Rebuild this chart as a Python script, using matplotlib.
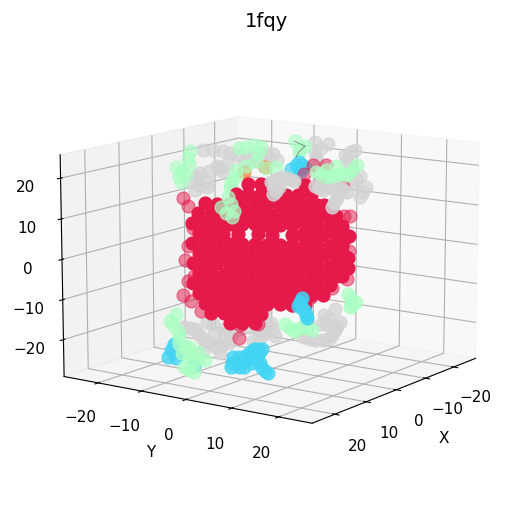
import matplotlib
matplotlib.use("Agg")
import matplotlib.pyplot as plt

TITLE = "1fqy"
TICKS = [-20, -10, 0, 10, 20]

# Helix residues
core_z = [17,17,17,
 14.5,14.5,14.5,14.5,14.5,14.5,14.5,
 12,12,12,12,12,12,12,12,12,12,12,
 9.5,9.5,9.5,9.5,9.5,9.5,9.5,9.5,9.5,9.5,9.5,9.5,9.5,
 7,7,7,7,7,7,7,7,7,7,7,7,7,7,
 4.5,4.5,4.5,4.5,4.5,4.5,4.5,4.5,4.5,4.5,4.5,4.5,4.5,
 2,2,2,2,2,2,2,2,2,2,2,2,2,
 -.5,-.5,-.5,-.5,-.5,-.5,-.5,-.5,-.5,-.5,-.5,-.5,-.5,
 -3,-3,-3,-3,-3,-3,-3,-3,-3,-3,-3,-3,-3,
 -5.5,-5.5,-5.5,-5.5,-5.5,-5.5,-5.5,-5.5,-5.5,-5.5,-5.5,-5.5,-5.5,
 -8,-8,-8,-8,-8,-8,-8,-8,-8,-8,-8,-8,
 -10.5,-10.5,-10.5,-10.5,-10.5,-10.5,-10.5,-10.5,-10.5,-10.5,-10.5,
 -13,-13,-13,-13,-13,-13,-13,-13,-13,
 -15.5,-15.5,-15.5,-15.5,-15.5,
 -18,-18,-18,
 4,-1,-3.5]
core_y = [-4,-2,5,
 -6,-4,-2,0,2,4,6,
 -11,-9,-7,-5,-3,-1,1,3,5,7,8,
 -12,-10,-8,-6,-4,-2,0,2,4,6,8,9,10,
 -13,-11,-9,-7,-5,-3,-1,1,3,5,7,9,10,11,
 -12,-10,-8,-5.6,-2.4,-.2,3,4.5,6,8,10,11,12,
 -13,-11,-9,-7,-5,-3,-1,1,3,5,7,9,11,
 -12,-10,-8,-6,-4,-2,0,2,4,6,8,10,11.5,
 -13,-11,-9,-7,-5,-3,-1,1,3,5,7,9,11,
 -12,-10,-8,-6,-4,-2,0,2,4,6,8,10,11,
 -13,-11,-9,-7,-5,-3,-1,1,3,5,7,9,
 -12,-10,-8,-6,-4,-2,0,2,4,6,8,
 -11,-9,-7,-5,-3,-1,1,3,5,
 -10,-8,-6,-4,-2,
 -7,-5,-3,
 11.5,12,12]
core_x = [2.3,1.2,-2.9,
 3.5,2.3,1.2,0,-1.2,-2.3,-3.5,
 6.3,5.2,4,2.9,1.7,.6,-.6,-1.7,-2.9,-4,-4.6,
 6.9,5.8,4.6,3.5,2.3,1.2,0,-1.2,-2.3,-3.5,-4.6,-5.2,-5.8,
 7.5,6.3,5.2,4,2.9,1.7,.6,-.6,-1.7,-2.9,-4,-5.2,-5.8,-6.3,
 6.9,5.8,4.6,3.2,1.4,.1,-1.7,-2.6,-3.5,-4.6,-5.8,-6.3,-6.9,
 7.5,6.3,5.2,4,2.9,1.7,.6,-.6,-1.7,-2.9,-4,-5.2,-6.3,
 6.9,5.8,4.6,3.5,2.3,1.2,0,-1.2,-2.3,-3.5,-4.6,-5.8,-6.6,
 7.5,6.3,5.2,4,2.9,1.7,.6,-.6,-1.7,-2.9,-4,-5.2,-6.3,
 6.9,5.8,4.6,3.5,2.3,1.2,0,-1.2,-2.3,-3.5,-4.6,-5.8,-6.3,
 7.5,6.3,5.2,4,2.9,1.7,.6,-.6,-1.7,-2.9,-4,-5.2,
 6.9,5.8,4.6,3.5,2.3,1.2,0,-1.2,-2.3,-3.5,-4.6,
 6.3,5.2,4,2.9,1.7,.6,-.6,-1.7,-2.9,
 5.8,4.6,3.5,2.3,1.2,
 4,2.9,1.7,
 -6.6,-6.9,-6.9]

rim_x = [8.4,7.9,7.4,-6.5,-7,-6.6,-6.3,-3.8,-5.1,-3.1,-4.1,8.2,7.9,8.4,7.7,-7,-6.8,-6.5,-5.4,-3.4,-1.7,1.4,3.1,3.2,7.4,7.9,6.7]
rim_y = [-14.5,-13.7,-12.8,11.3,12.2,11.4,11,6.1,8.2,4.7,7.2,-14.2,-13.7,-14.5,-13.3,12.1,11.8,11.2,9.4,6,3,-2.5,-5.3,-5.5,-12.8,-13.7,-11.7]
rim_z = [13.2,11.2,5.8,9.5,9.5,5,17,22,22,19.6,17.8,-2.2,1.2,-11,-12.5,.8,-6.2,-3.5,-8.5,-11,-13,-18,-18.5,-21.8,-6.2,-7.5,-15]

# Coil residues
gray_back_x = [-3.3,-4.2,-5.2,-6.5,-7.5,-8.7,-9.9,-7.1,-8.4,-4.6,-5.1,-3,-2.2,-3.6,-2.5,-3.6,-13.8,-15,-13.8,-14,-16.6,-17.6,-17.1,-18.6,-18.1,-17.4,
 -5.8,-8.1,-9.3,-7.8,-4.8,-3.8,-2.6,-2.9,-5.3,-14.3,-13.9,-17.1,-16.8,-18,-18.3,-17.7,-9.3,-10.3]
gray_back_y = [-18.5,-16.8,-15.1,-12.8,-11.1,-9,-7,-11.8,-9.5,-16.1,-15.3,-19,-20.3,-17.8,-19.8,-17.8,-.1,1.9,-.1,.2,4.7,6.4,5.5,8.2,7.2,6,
 -13.9,-10.1,-8,-10.6,-15.7,-17.5,-19.6,-18.8,-14.3,.9,0,5.5,5.1,7.1,7.7,6.6,-8.3,-6.3]
gray_back_z = [22.6,22.6,22.4,21.4,21.1,21.9,21.9,19.9,19.9,18.6,17.4,16.8,14.4,14.4,12.4,13.1,24.9,24.4,22.4,20.1,21.9,23.1,19.4,13.9,11.1,14.4,
 21.9,21.5,21.9,19.9,18,17.2,15.6,13.7,19.2,23.4,21.2,22.5,20.6,16.6,12.5,15.7,19.2,20.2]

gray_front_x = [0,-1.2,-2.1,-.2,-.8,-4,-4.8,-6,-6.1,-5.6,-7,-.6,-1.7,-.5,-4.4,-5.4,-6,-5.9,-6.5]
gray_front_y = [-.6,1.4,3.1,-.3,.7,6.4,7.7,9.7,9.9,9.1,11.6,.4,2.3,.2,7,8.7,9.8,9.5,10.7]
gray_front_z = [17.6,18.8,17.8,14.6,16.3,16.6,15.8,17,13.8,11.6,15.3,18.2,18.4,15.3,16.3,16.4,15.3,12.6,16.1]

gray_low_x = [18.1,17.1,16.4,15.2,14,13.8,16.1,14.8,10.7,10.1,11.1,9.7,11.7,10.7,7.2,6.1,4.8,4.3,3.9,5.3,4.3,5.6,13.4,16,
 17.6,16.8,15.8,14.6,14.3,15.3,13,14.5,15.3,12,11,9.9,10.4,11.2,6.7,5.4,4.5,4.1,4.8,5]
gray_low_y = [-7.1,-5.4,-4.3,-2.1,-.1,.2,-3.8,-1.4,5.5,6.5,4.8,7.2,3.8,5.5,11.5,13.5,15.7,16.5,17.3,14.8,16.5,14.3,1.1,-3.4,
 -6.2,-4.8,-3.2,-1.1,-.6,-2.4,1,-.8,-2.6,3,4.5,6.9,6,4.6,12.5,14.6,16.1,16.9,15.6,15]
gray_low_z = [-15.4,-15.9,-17.9,-20.2,-19.2,-17.7,-20.4,-21.6,-11.7,-13.9,-15.9,-17.2,-18.4,-16.6,-17.2,-17.9,-17.7,-15.4,-13.4,-11.7,-10.2,-13.9,-15.9,-13.9,
 -15.6,-17,-19,-19.5,-17,-17,-15,-15.5,-14.5,-15,-13,-15.5,-14.8,-18,-17.6,-17.8,-16.6,-14.4,-12.5,-14]

# Strand residues
green_back_x = [-2.1,-.8,-1.2,-2,-1.7,-6.6,-8.1,-8.7,-8.3,-6.3,-6,-5.9,-10.2,-8.5,-11.9,-12.9,-12.3,
 -2,-1.4,-1,-7.3,-8.4,-7.3,-6.3,-5.9,-12.3,-9.3]
green_back_y = [-20.6,-22.9,-22.1,-20.7,-21.2,-12.6,-10.1,-9,-9.8,-13.1,-13.6,-14,-6.5,-9.3,-3.5,-1.8,-2.8,
 -20.9,-21.9,-22.4,-11.3,-9.5,-11.3,-13.1,-13.8,-2.6,-8.3]
green_back_z = [22.2,18,14.4,18.7,16.2,23.1,23.9,23.6,19.9,17.6,15.1,13.1,18.6,11.4,25.1,23.9,22.4,
 20.4,17.1,15.6,23.5,21.9,18.7,16.2,14.2,23.2,18.2]

green_front_x = [4.1,3.7,3.8,4.8,-4.1,-5.1,-6.1,-7,-7.9,-6,3.9,4.4,-4.6,-5.6,-6.6,-7.4,-5]
green_front_y = [-7.2,-6.3,-6.7,-8.3,6.6,8.2,9.9,11.6,13.1,9.7,-6.8,-7.6,7.4,9,10.8,12.4,8.2]
green_front_z = [13.8,10.2,8.8,11.2,20.3,19,19.6,19.6,22,21.6,12,9.6,19.6,19.2,19.7,20.8,20.6]

green_low_x = [18.8,19.3,18.6,18.5,17.6,17.4,16.2,18.1,17.2,8.8,8,7.2,6.4,3.2,2.4,3,
 19,18.5,18,17.5,16.8,17.6,18.2,16.8,8.4,7.6,6.8,3,2.8]
green_low_y = [-8.4,-9.3,-8.1,-7.9,-6.3,-5.9,-3.9,-7.1,-5.6,8.8,10.2,11.5,13,18.5,19.8,18.8,
 -8.8,-8,-7,-6.1,-4.9,-6.3,-7.5,-5,9.5,10.8,12.2,19,19.2]
green_low_z = [-12.2,-13.9,-16.4,-19.6,-20.4,-23.4,-23.4,-25.4,-26.4,-14.2,-15.9,-14.6,-15.4,-6.4,-8.4,-9.6,
 -15,-18,-20,-22,-23.4,-26,-21.8,-21.5,-15,-15.2,-15,-7.5,-9]

# Turn residues
cyan_top_x = [-11.6,-12.3,-12.4,-12.9,-14.7,-12,-12.6,-12.3]
cyan_top_y = [-4,-2.8,-2.6,-1.8,1.4,-3.3,-2.3,-2.8]
cyan_top_z = [18.1,19.9,17.4,18.6,8.9,19,19,18.2]

cyan_low_x = [19.5,19,17.1,13.8,13.6,12.5,12.3,11.7,10.9,10.9,10.4,11.4,13.7,13,12.4,12,11.3,11.1,10.6,11.9,19.3,18.8,13,11.1,12]
cyan_low_y = [-9.6,-8.8,-5.7,.2,.5,2.3,2.7,3.8,5.2,5.2,6,4.3,.4,1.4,2.5,3.2,4.5,4.8,5.6,3.5,-9.2,-8.4,1.5,4.7,3.2]
cyan_low_z = [-22.9,-19.6,-25.1,-25.1,-22.6,-25.1,-22.1,-20.4,-20.4,-25.1,-26.4,-22.6,-24,-25.1,-23.6,-21.2,-20.4,-24,-25.8,-24,-21.2,-23,-22.6,-21.5,-22.8]

cyan_front_x = [7.3,7.7,7,6.8,7.5,7.3,6.9]
cyan_front_y = [11.3,10.7,11.8,12.2,11,11.3,12]
cyan_front_z = [-7.7,-9.6,-10.9,-12.6,-8.6,-10.2,-11.7]

orange_x = [-7.1,-9.1]
orange_y = [-11.8,-8.3]
orange_z = [17,18.5]

trace_x = [-11.9,-12.9,-12.3,-11.9]
trace_y = [-3.5,-1.8,-2.8,-3.1]
trace_z = [25.1,23.9,22.4,21.2]

CRIMSON, GRAY, GREEN, CYAN, ORANGE = "#e6194b", "#d3d3d3", "#aaffc3", "#42d4f4", "#f58231"

plt.rcParams.update({"font.size": 11})
fig = plt.figure(figsize=(5.09, 5.10), dpi=100)
ax = fig.add_axes([0.0685, 0.018, 0.91, 0.92], projection="3d", computed_zorder=False)
ax.view_init(elev=12, azim=35)

def dots(xs, ys, zs, color, alpha, z):
    ax.scatter(xs, ys, zs, s=85, c=color, alpha=alpha, depthshade=False, zorder=z)

dots(gray_back_x, gray_back_y, gray_back_z, GRAY, .7, 1)
dots(orange_x, orange_y, orange_z, ORANGE, .7, 1.5)
dots(green_back_x, green_back_y, green_back_z, GREEN, .65, 2)
dots(cyan_top_x, cyan_top_y, cyan_top_z, CYAN, .7, 2)
dots(gray_low_x, gray_low_y, gray_low_z, GRAY, .75, 3)
dots(rim_x, rim_y, rim_z, CRIMSON, .5, 4)
dots(core_x, core_y, core_z, CRIMSON, 1, 5)
dots(gray_front_x, gray_front_y, gray_front_z, GRAY, .85, 6)
dots(green_front_x, green_front_y, green_front_z, GREEN, .7, 7)
dots(cyan_low_x, cyan_low_y, cyan_low_z, CYAN, .8, 7)
dots(green_low_x, green_low_y, green_low_z, GREEN, .7, 8)
dots(cyan_front_x, cyan_front_y, cyan_front_z, CYAN, .85, 9)
ax.plot(trace_x, trace_y, trace_z, color="#666666", lw=0.5, zorder=2.6)

ax.set_xlim(-28, 27)
ax.set_ylim(-28, 27)
ax.set_zlim(-29.3, 25.7)
ax.set_xticks(TICKS)
ax.set_yticks(TICKS)
ax.set_zticks(TICKS)
ax.tick_params(axis="z", pad=6)
ax.tick_params(axis="x", pad=7)
ax.tick_params(axis="y", pad=8)
ax.set_xlabel("X", labelpad=10)
ax.set_ylabel("Y", labelpad=10)
ax.set_title(TITLE, fontsize=14, y=1.085)
fig.savefig("out.png", dpi=100)
